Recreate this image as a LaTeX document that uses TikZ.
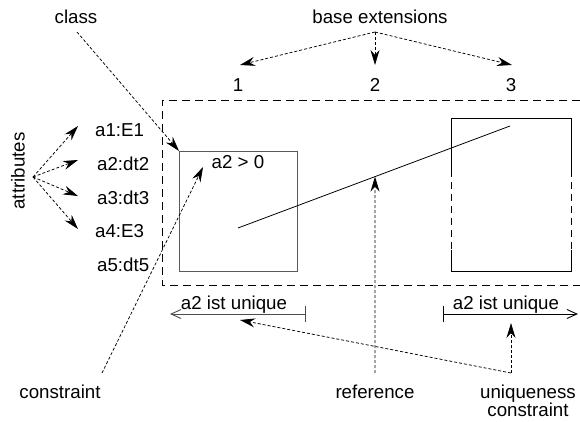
\documentclass[tikz,border=0pt]{standalone}
\usepackage{fontspec}
\setmainfont{Liberation Sans}
\usetikzlibrary{arrows.meta,calc}
\begin{document}
\begin{tikzpicture}[x=1pt,y=-1pt,
  lbl/.style={inner sep=0pt, font=\fontsize{18.7}{22}\selectfont},
  pointer/.style={dash pattern=on 3pt off 2pt, line width=0.75pt,
    -{Stealth[length=15pt,width=9pt,inset=5pt]}},
  frame/.style={dash pattern=on 8pt off 5pt, line width=0.8pt},
  side/.style={dash pattern=on 7pt off 5pt, line width=0.9pt},
  solid box/.style={line width=0.9pt},
  uniq/.style={line width=0.9pt, {Bar[width=16pt]}-{Straight Barb[length=10pt,width=9pt]}},
  uniqrev/.style={line width=0.9pt, {Straight Barb[length=10pt,width=9pt]}-{Bar[width=16pt]}},
]
\useasboundingbox (0,0) rectangle (580,422);

% dashed frame of the extensions
\draw[frame] (580,100) -- (162,100) -- (162,285) -- (580,285);

% class box (extension 1)
\draw[solid box, draw=black!65] (179,151) rectangle (297,271);
% class box (extension 3) with partly dashed sides
\draw[solid box] (451,170) -- (451,118) -- (571,118) -- (571,170);
\draw[solid box] (451,250) -- (451,271) -- (571,271) -- (571,250);
\draw[side] (451,170) -- (451,250);
\draw[side] (571,170) -- (571,250);

% reference between the two classes
\coordinate (refA) at (238,228);
\coordinate (refB) at (510,126);
\draw[line width=0.8pt] (refA) -- (refB);
\coordinate (refHit) at ($(refA)!0.5037!(refB)$);

% labels
\node[lbl, anchor=base] (class) at (76,24) {class};
\node[lbl, anchor=base] (base) at (380,24) {base extensions};
\node[lbl, anchor=base] (n1) at (238,92) {1};
\node[lbl, anchor=base] (n2) at (375,92) {2};
\node[lbl, anchor=base] (n3) at (511,92) {3};
\node[lbl, rotate=90] (attr) at (18,171) {attributes};
\node[lbl, anchor=base west] (a1) at (95,137) {a1:E1};
\node[lbl, anchor=base west] (a2) at (97,170.5) {a2:dt2};
\node[lbl, anchor=base west] (a3) at (97,204) {a3:dt3};
\node[lbl, anchor=base west] (a4) at (95,237.5) {a4:E3};
\node[lbl, anchor=base west] (a5) at (97,271) {a5:dt5};
\node[lbl, anchor=base] (cond) at (238,168) {a2 > 0};
\node[lbl, anchor=base] (ua) at (234,309) {a2 ist unique};
\node[lbl, anchor=base] (ub) at (506,309) {a2 ist unique};
\node[lbl, anchor=base] (constraint) at (60,398) {constraint};
\node[lbl, anchor=base] (reference) at (375,398) {reference};
\node[lbl, anchor=base] (uc) at (528,398) {uniqueness};
\node[lbl, anchor=base] (uc2) at (528,416) {constraint};

% uniqueness markers
\coordinate (uaL) at (170,314);
\coordinate (uaR) at (306,314);
\coordinate (ubL) at (443,314);
\coordinate (ubR) at (578,314);
\draw[uniqrev, draw=black!70] (uaL) -- (uaR);
\draw[uniq] (ubL) -- (ubR);

% pointer origins and targets
\coordinate (classFrom) at (77,32);
\coordinate (classTo) at (179,151);
\coordinate (baseFrom) at (375,32);
\coordinate (e1) at (240,65);
\coordinate (e2) at (375,65);
\coordinate (e3) at (512,65);
\coordinate (attrFrom) at (33,177);
\coordinate (t1) at (78,126);
\coordinate (t2) at (78,160);
\coordinate (t3) at (78,196);
\coordinate (t4) at (78,229);
\coordinate (consFrom) at (102,373);
\coordinate (consTo) at (203,167);
\coordinate (refFrom) at (375,373);
\coordinate (uniqFrom) at (511,373);
\coordinate (uniqTo1) at (511,323);
\coordinate (uniqTo2) at (240,320);

\draw[pointer] (classFrom) -- (classTo);
\draw[pointer] (baseFrom) -- (e1);
\draw[pointer] (baseFrom) -- (e2);
\draw[pointer] (baseFrom) -- (e3);
\draw[pointer] (attrFrom) -- (t1);
\draw[pointer] (attrFrom) -- (t2);
\draw[pointer] (attrFrom) -- (t3);
\draw[pointer] (attrFrom) -- (t4);
\draw[pointer] (consFrom) -- (consTo);
\draw[pointer] (refFrom) -- (refHit);
\draw[pointer] (uniqFrom) -- (uniqTo1);
\draw[pointer] (uniqFrom) -- (uniqTo2);
\end{tikzpicture}
\end{document}
